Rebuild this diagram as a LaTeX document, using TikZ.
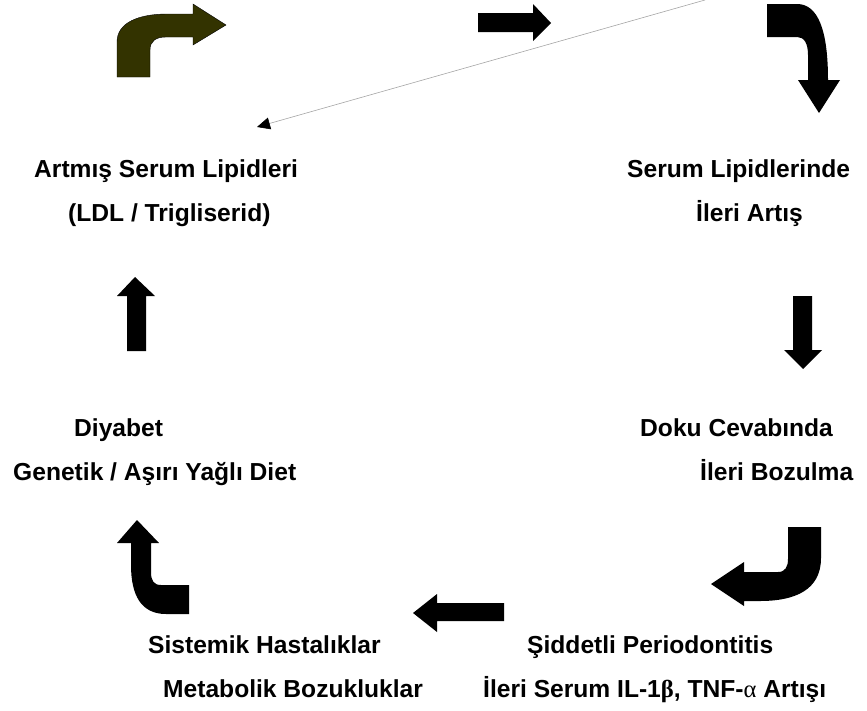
\documentclass[tikz,border=0pt]{standalone}
\usepackage{fontspec}
\setmainfont{Liberation Sans}
\newfontfamily\grk{Liberation Serif}
\usetikzlibrary{arrows.meta}
\definecolor{olivedark}{RGB}{51,51,0}
\definecolor{thinline}{RGB}{165,165,165}
\begin{document}
\begin{tikzpicture}[x=1pt,y=-1pt,
  lbl/.style={anchor=base west,inner sep=0pt,font=\fontsize{24.6}{24.6}\selectfont\bfseries},
  blockarrow/.style={fill=black,draw=none},
  olivearrow/.style={fill=olivedark,draw=black,line width=0.4pt}]
\useasboundingbox (0,0) rectangle (867,710);

% texts
\node[lbl] (t1a) at (34,177) {Artmış Serum Lipidleri};
\node[lbl] (t1b) at (68,221) {(LDL / Trigliserid)};
\node[lbl] (t2a) at (627,177) {Serum Lipidlerinde};
\node[lbl] (t2b) at (696,221) {İleri Artış};
\node[lbl] (t3a) at (640,436) {Doku Cevabında};
\node[lbl] (t3b) at (700,480) {İleri Bozulma};
\node[lbl] (t4a) at (527,653) {Şiddetli Periodontitis};
\node[lbl] (t4b) at (483,697) {İleri Serum IL-1{\grk β}, TNF-{\grk\mdseries α} Artışı};
\node[lbl] (t5a) at (148,653) {Sistemik Hastalıklar};
\node[lbl] (t5b) at (163,697) {Metabolik Bozukluklar};
\node[lbl] (t6a) at (74,436) {Diyabet};
\node[lbl] (t6b) at (13,480) {Genetik / Aşırı Yağlı Diet};

% olive bent arrow (top left)
\path[olivearrow] (117,77) -- (117,42) .. controls (117,22) and (140,14) .. (167,14)
  -- (193,14) -- (193,4) -- (226,25) -- (193,45) -- (193,37) -- (166,37)
  .. controls (156,37) and (150,41) .. (150,50) -- (150,77) -- cycle;

% straight right arrow (top)
\path[blockarrow] (478,13) -- (533,13) -- (533,4) -- (551,23) -- (533,41) -- (533,32) -- (478,32) -- cycle;

% thin connector
\coordinate (lineStart) at (705,0);
\coordinate (lineEnd) at (257,127);
\draw[thinline,line width=0.6pt,-{Triangle[length=13pt,width=12pt,fill=black,color=black]}] (lineStart) -- (lineEnd);

% curved down arrow (top right)
\path[blockarrow] (767,4) -- (797,4) .. controls (818,4) and (828,30) .. (828,80)
  -- (840,80) -- (819,113) -- (798,80) -- (808,80) -- (808,55)
  .. controls (808,43) and (804,37) .. (797,37) -- (767,37) -- cycle;

% straight down arrow (right)
\path[blockarrow] (793,296) -- (812,296) -- (812,350) -- (822,350) -- (803,369) -- (784,350) -- (793,350) -- cycle;

% J arrow (bottom right)
\path[blockarrow] (821,527) -- (821,558) .. controls (821,590) and (795,601) .. (760,601)
  -- (744,601) -- (744,606) -- (711,584) -- (744,562) -- (744,572) -- (778,572)
  .. controls (785,572) and (788,567) .. (788,559) -- (788,527) -- cycle;

% straight left arrow (bottom)
\path[blockarrow] (504,603) -- (437,603) -- (437,594) -- (413,613) -- (437,632) -- (437,621) -- (504,621) -- cycle;

% curved up arrow (bottom left)
\path[blockarrow] (137,520) -- (159,543) -- (151,543) -- (151,572)
  .. controls (151,581) and (154,585) .. (161,585) -- (189,585) -- (189,614) -- (166,614)
  .. controls (141,614) and (131,595) .. (131,565) -- (131,543) -- (117,543) -- cycle;

% straight up arrow (left)
\path[blockarrow] (127,351) -- (127,296) -- (117,296) -- (135,277) -- (155,296) -- (146,296) -- (146,351) -- cycle;
\end{tikzpicture}
\end{document}
